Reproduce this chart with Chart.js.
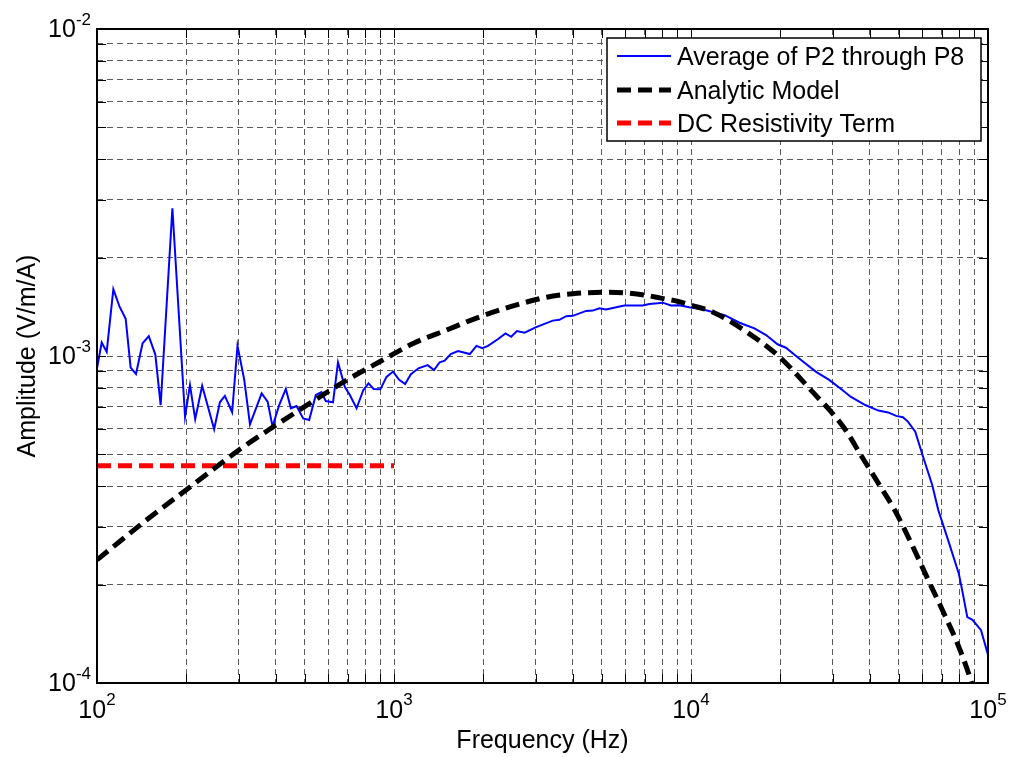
<!DOCTYPE html>
<html>
<head>
<meta charset="utf-8">
<script src="https://cdn.jsdelivr.net/npm/chart.js@4.4.1/dist/chart.umd.min.js"></script>
<style>
  html, body { margin: 0; padding: 0; background: #fff; }
  #wrap { width: 1010px; height: 757px; }
</style>
</head>
<body>
<div id="wrap"><canvas id="chart" width="1010" height="757"></canvas></div>
<script>
// Average of P2..P8
const avgFreq = [
  100, 103.7, 107.8, 113.5, 118.9, 124.9, 129.8, 135.3, 142.4, 149.4, 157.2, 163.8, 179.4,
  197.9, 205.6, 214.1, 226, 248, 259.3, 269.5, 285.1, 297.2, 313.2, 327.4, 358.4, 375.4,
  390, 410.6, 432.3, 449.6, 469.7, 494.6, 518.1, 545.6, 570.1, 589.2, 623.3, 647.8, 682.9,
  710.1, 748.2, 788.6, 820.7, 853.9, 900, 943.6, 993, 1039, 1090, 1140, 1209, 1298, 1364,
  1425, 1481, 1552, 1643, 1800, 1895, 1984, 2072, 2236, 2373, 2481, 2593, 2752, 3011, 3424,
  3607, 3799, 3998, 4436, 4670, 4915, 5173, 5965, 6880, 7240, 7720, 8025, 8560, 9130, 9860,
  10900, 12980, 14570, 16350, 17900, 19560, 20870, 23130, 26300, 29180, 32330, 34460, 38600,
  42750, 46100, 49080, 51700, 53740, 56900, 60450, 64900, 68000, 73640, 79750, 81880, 85180,
  88630, 94730, 100000
];
const avgAmp = [
  9.17e-4, 1.10e-3, 1.03e-3, 1.60e-3, 1.42e-3, 1.30e-3, 9.21e-4, 8.81e-4, 1.094e-3, 1.15e-3, 1.01e-3, 7.08e-4, 2.83e-3,
  6.52e-4, 8.15e-4, 6.41e-4, 8.11e-4, 5.97e-4, 7.22e-4, 7.55e-4, 6.73e-4, 1.074e-3, 8.45e-4, 6.18e-4, 7.69e-4, 7.25e-4,
  6.08e-4, 7.08e-4, 7.93e-4, 6.92e-4, 7.03e-4, 6.44e-4, 6.37e-4, 7.60e-4, 7.75e-4, 7.28e-4, 7.22e-4, 9.57e-4, 8.05e-4,
  7.60e-4, 6.92e-4, 7.87e-4, 8.25e-4, 7.93e-4, 7.91e-4, 8.63e-4, 8.96e-4, 8.47e-4, 8.21e-4, 8.80e-4, 9.17e-4, 9.38e-4, 9.06e-4,
  9.57e-4, 9.68e-4, 1.014e-3, 1.035e-3, 1.014e-3, 1.074e-3, 1.056e-3, 1.074e-3, 1.125e-3, 1.173e-3, 1.145e-3, 1.192e-3, 1.178e-3, 1.226e-3, 1.283e-3,
  1.29e-3, 1.324e-3, 1.327e-3, 1.374e-3, 1.377e-3, 1.40e-3, 1.387e-3, 1.427e-3, 1.427e-3, 1.443e-3, 1.45e-3, 1.456e-3, 1.427e-3, 1.43e-3, 1.41e-3,
  1.39e-3, 1.334e-3, 1.264e-3, 1.215e-3, 1.159e-3, 1.086e-3, 1.06e-3, 9.83e-4, 8.96e-4, 8.45e-4, 7.87e-4, 7.51e-4, 7.08e-4,
  6.81e-4, 6.72e-4, 6.56e-4, 6.50e-4, 6.30e-4, 5.87e-4, 4.92e-4, 4.03e-4, 3.38e-4, 2.71e-4, 2.16e-4, 1.92e-4, 1.59e-4,
  1.56e-4, 1.45e-4, 1.22e-4
];

// Analytic model
const modelFreq = [100, 150, 200, 307, 393, 500, 675, 898, 1165, 1500, 1947, 2500, 3267, 4000, 5173, 6000, 7000, 8000, 9000, 10000,
  11770, 15360, 19820, 25620, 29930, 33140, 37610, 42750, 48500, 55200, 63000, 71800, 79750, 87500, 89500];
const modelAmp = [2.38e-4, 3.2e-4, 3.9e-4, 5.23e-4, 6.08e-4, 7.0e-4, 8.32e-4, 9.62e-4, 1.094e-3, 1.2e-3, 1.318e-3, 1.42e-3, 1.513e-3, 1.55e-3, 1.567e-3, 1.56e-3, 1.535e-3, 1.50e-3, 1.47e-3, 1.43e-3,
  1.366e-3, 1.186e-3, 9.95e-4, 7.78e-4, 6.68e-4, 5.94e-4, 4.92e-4, 4.08e-4, 3.38e-4, 2.67e-4, 2.06e-4, 1.60e-4, 1.29e-4, 1.02e-4, 9.5e-5];

// DC resistivity term
const dcFreq = [100, 1000];
const dcAmp = [4.62e-4, 4.62e-4];

const seriesLabels = ["Average of P2 through P8", "Analytic Model", "DC Resistivity Term"];
const xExps = [2, 3, 4, 5];
const yExps = [-4, -3, -2];
const xTitle = "Frequency (Hz)";
const yTitle = "Amplitude (V/m/A)";

const FONT = "'Liberation Sans', Arial, Helvetica, sans-serif";

// major + minor (2..9) positions for each decade
function decadeTicks(exps) {
  const out = [];
  for (let i = 0; i < exps.length; i++) {
    const base = Math.pow(10, exps[i]);
    out.push(base);
    if (i < exps.length - 1) for (let m = 2; m <= 9; m++) out.push(m * base);
  }
  return out;
}

const toPoints = (xs, ys) => xs.map((v, i) => ({ x: v, y: ys[i] }));

// box, inward ticks, 10^n labels, titles and legend drawn MATLAB-style
const matlabAxes = {
  id: "matlabAxes",
  afterDraw(chart) {
    const { ctx, chartArea: a, scales: { x, y } } = chart;
    const tickLen = 9;
    ctx.save();

    ctx.strokeStyle = "#000";
    ctx.lineWidth = 1;
    ctx.beginPath();
    x.ticks.forEach(t => {
      const px = Math.round(x.getPixelForValue(t.value)) + 0.5;
      ctx.moveTo(px, a.bottom); ctx.lineTo(px, a.bottom - tickLen);
      ctx.moveTo(px, a.top); ctx.lineTo(px, a.top + tickLen);
    });
    y.ticks.forEach(t => {
      const py = Math.round(y.getPixelForValue(t.value)) + 0.5;
      ctx.moveTo(a.left, py); ctx.lineTo(a.left + tickLen, py);
      ctx.moveTo(a.right, py); ctx.lineTo(a.right - tickLen, py);
    });
    ctx.stroke();

    ctx.lineWidth = 2;
    ctx.strokeRect(a.left, a.top, a.right - a.left, a.bottom - a.top);

    // tick labels
    ctx.fillStyle = "#000";
    ctx.textBaseline = "alphabetic";
    const big = `25px ${FONT}`, small = `17px ${FONT}`;
    xExps.forEach(e => {
      const px = x.getPixelForValue(Math.pow(10, e));
      ctx.font = big; const wb = ctx.measureText("10").width;
      ctx.font = small; const we = ctx.measureText(String(e)).width;
      const left = px - (wb + we) / 2;
      ctx.textAlign = "left";
      ctx.font = big; ctx.fillText("10", left, a.bottom + 35);
      ctx.font = small; ctx.fillText(String(e), left + wb, a.bottom + 22);
    });
    yExps.forEach(e => {
      const py = y.getPixelForValue(Math.pow(10, e));
      const es = String(e);
      ctx.font = small; const we = ctx.measureText(es).width;
      ctx.textAlign = "right";
      ctx.fillText(es, a.left - 6, py - 4);
      ctx.font = big; ctx.fillText("10", a.left - 6 - we, py + 8);
    });

    // axis titles
    ctx.font = big;
    ctx.textAlign = "center";
    ctx.fillText(xTitle, (a.left + a.right) / 2, 748);
    ctx.save();
    ctx.translate(35, (a.top + a.bottom) / 2);
    ctx.rotate(-Math.PI / 2);
    ctx.fillText(yTitle, 0, 0);
    ctx.restore();

    // legend
    const lx = a.right - 381, ly = a.top + 9, lw = 374, lh = 103;
    ctx.fillStyle = "#fff";
    ctx.fillRect(lx, ly, lw, lh);
    ctx.strokeStyle = "#000";
    ctx.lineWidth = 1.5;
    ctx.strokeRect(lx, ly, lw, lh);
    const rows = [56, 90, 123];
    chart.data.datasets.forEach((ds, i) => {
      const ry = rows[i];
      ctx.save();
      ctx.strokeStyle = ds.borderColor;
      ctx.lineWidth = ds.borderWidth;
      ctx.setLineDash(ds.borderDash || []);
      ctx.beginPath();
      ctx.moveTo(lx + 10, ry); ctx.lineTo(lx + 64, ry);
      ctx.stroke();
      ctx.restore();
      ctx.fillStyle = "#000";
      ctx.font = big;
      ctx.textAlign = "left";
      ctx.fillText(ds.label, lx + 70, ry + 9);
    });

    ctx.restore();
  }
};

const gridOpts = { color: "#5a5a5a", lineWidth: 1, drawTicks: false };

new Chart(document.getElementById("chart"), {
  type: "line",
  data: {
    datasets: [
      { label: seriesLabels[0], data: toPoints(avgFreq, avgAmp), borderColor: "#0000ff", borderWidth: 2,
        pointRadius: 0, order: 3 },
      { label: seriesLabels[1], data: toPoints(modelFreq, modelAmp), borderColor: "#000000", borderWidth: 5,
        borderDash: [14, 7], pointRadius: 0, cubicInterpolationMode: "monotone", order: 1 },
      { label: seriesLabels[2], data: toPoints(dcFreq, dcAmp), borderColor: "#ff0000", borderWidth: 5,
        borderDash: [14, 7], pointRadius: 0, order: 2 }
    ]
  },
  options: {
    responsive: false,
    animation: false,
    devicePixelRatio: 1,
    layout: { padding: { left: 97, top: 29, right: 22, bottom: 74 } },
    plugins: { legend: { display: false }, tooltip: { enabled: false } },
    scales: {
      x: {
        type: "logarithmic", min: 100, max: 100000,
        afterBuildTicks: s => { s.ticks = decadeTicks(xExps).map(v => ({ value: v })); },
        afterFit: s => { s.height = 0; },
        ticks: { display: false },
        grid: gridOpts,
        border: { display: false, dash: [6, 4] }
      },
      y: {
        type: "logarithmic", min: 1e-4, max: 1e-2,
        afterBuildTicks: s => { s.ticks = decadeTicks(yExps).map(v => ({ value: v })); },
        afterFit: s => { s.width = 0; },
        ticks: { display: false },
        grid: gridOpts,
        border: { display: false, dash: [6, 4] }
      }
    }
  },
  plugins: [matlabAxes]
});
</script>
</body>
</html>
